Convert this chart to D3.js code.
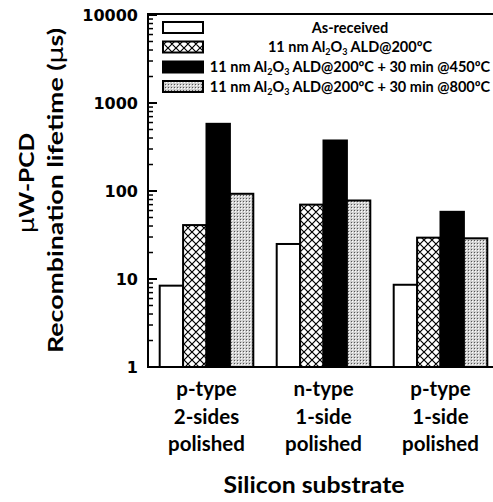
<!DOCTYPE html>
<html><head><meta charset="utf-8">
<script src="https://cdn.jsdelivr.net/npm/d3@7"></script>
<style>body{margin:0;background:#fff}svg{display:block}</style>
</head><body><svg id="c" width="493" height="502"></svg>
<script>
const categories = [["p-type","2-sides","polished"],["n-type","1-side","polished"],["p-type","1-side","polished"]];
const seriesNames = ["As-received","ALD200","ALD200+450","ALD200+800"];
const asReceived = [8.4, 25, 8.6];
const ald200 = [41, 70, 29.5];
const ald450 = [580, 375, 58];
const ald800 = [93, 78, 29];
const yTicks = [1, 10, 100, 1000, 10000];

const svg = d3.select("#c");
const L = 148, R = 499, T = 15, B = 367;
const defs = svg.append("defs");
const ch = defs.append("pattern").attr("id","cross").attr("patternUnits","userSpaceOnUse").attr("width",8).attr("height",8);
ch.append("rect").attr("width",8).attr("height",8).attr("fill","#fff");
ch.append("path").attr("d","M0,0L8,8M8,0L0,8M-4,4L4,-4M4,12L12,4M-4,4L4,12M4,-4L12,4").attr("stroke","#000").attr("stroke-width",1.2);
const dt = defs.append("pattern").attr("id","dots").attr("patternUnits","userSpaceOnUse").attr("width",3).attr("height",3);
dt.append("rect").attr("width",3).attr("height",3).attr("fill","#d0d0d0");
dt.append("rect").attr("x",1).attr("y",1).attr("width",1).attr("height",1).attr("fill","#fff");
dt.append("rect").attr("x",0).attr("y",0).attr("width",1).attr("height",1).attr("fill","#555");
const fills = ["#fff","url(#cross)","#000","url(#dots)"];
const data = [asReceived, ald200, ald450, ald800];

const y = d3.scaleLog().domain([1,10000]).range([B,T]);
const x0 = d3.scaleBand().domain(d3.range(categories.length)).range([L,R]).paddingInner(0.2).paddingOuter(0.1);
const x1 = d3.scaleBand().domain(d3.range(seriesNames.length)).range([0,x0.bandwidth()]);

const g = svg.append("g");
categories.forEach((c,i)=>{
  data.forEach((s,j)=>{
    g.append("rect").attr("x",x0(i)+x1(j)).attr("width",x1.bandwidth())
     .attr("y",y(s[i])).attr("height",B-y(s[i]))
     .attr("fill",fills[j]).attr("stroke","#000").attr("stroke-width",2);
  });
});

// axes frame
svg.append("line").attr("x1",L).attr("x2",493).attr("y1",T-1).attr("y2",T-1).attr("stroke","#000").attr("stroke-width",2);
svg.append("line").attr("x1",L).attr("x2",493).attr("y1",B).attr("y2",B).attr("stroke","#000").attr("stroke-width",2);
svg.append("line").attr("x1",L).attr("x2",L).attr("y1",T-2).attr("y2",B+1).attr("stroke","#000").attr("stroke-width",2);
// ticks
const minor = [];
for (let d=1; d<10000; d*=10) for (let k=2;k<10;k++) minor.push(d*k);
svg.selectAll(".mn").data(minor).enter().append("line").attr("x1",L).attr("x2",L+5)
  .attr("y1",d=>y(d)).attr("y2",d=>y(d)).attr("stroke","#000").attr("stroke-width",1.5);
svg.selectAll(".mj").data(yTicks).enter().append("line").attr("x1",L).attr("x2",L+9)
  .attr("y1",d=>y(d)).attr("y2",d=>y(d)).attr("stroke","#000").attr("stroke-width",2);
svg.selectAll(".tl").data(yTicks).enter().append("text").attr("x",138).attr("y",d=>y(d)+6)
  .attr("text-anchor","end").attr("font-family","DejaVu Sans").attr("font-weight","bold").attr("font-size",16).text(d=>d);

// category labels
categories.forEach((c,i)=>{
  const t = svg.append("text").attr("text-anchor","middle").attr("font-family","Lato").attr("font-weight","bold").attr("font-size",20.5);
  c.forEach((s,k)=>t.append("tspan").attr("x",x0(i)+x0.bandwidth()/2).attr("y",396+k*27.5).text(s));
});
svg.append("text").attr("x",314).attr("y",493).attr("text-anchor","middle").attr("font-family","Lato").attr("font-weight","bold").attr("font-size",23)
  .attr("textLength",181).attr("lengthAdjust","spacingAndGlyphs").text("Silicon substrate");

// y title
const yt = svg.append("text").attr("transform","translate(63,190.5) rotate(-90)").attr("text-anchor","middle").attr("font-family","Lato").attr("font-weight","bold").attr("font-size",21)
  .attr("textLength",325).attr("lengthAdjust","spacingAndGlyphs");
yt.append("tspan").text("Recombination lifetime  (");
yt.append("tspan").attr("font-weight","normal").attr("font-family","DejaVu Sans").text("µ");
yt.append("tspan").text("s)");
const yt2 = svg.append("text").attr("transform","translate(34,183) rotate(-90)").attr("text-anchor","middle").attr("font-family","Lato").attr("font-weight","bold").attr("font-size",21)
  .attr("textLength",100).attr("lengthAdjust","spacingAndGlyphs");
yt2.append("tspan").attr("font-weight","normal").attr("font-family","DejaVu Sans").text("µ");
yt2.append("tspan").text("W-PCD");

// legend
const legY = [27.5, 47, 67, 86.5];
const legParts = [
  [["As-received",""]],
  [["11 nm Al",""],["2","sub"],["O",""],["3","sub"],[" ALD@200ºC",""]],
  [["11 nm Al",""],["2","sub"],["O",""],["3","sub"],[" ALD@200ºC + 30 min @450ºC",""]],
  [["11 nm Al",""],["2","sub"],["O",""],["3","sub"],[" ALD@200ºC + 30 min @800ºC",""]]
];
legParts.forEach((parts,j)=>{
  svg.append("rect").attr("x",163).attr("y",legY[j]-5.5).attr("width",40).attr("height",11)
    .attr("fill",fills[j]).attr("stroke","#000").attr("stroke-width",2);
  const t = svg.append("text").attr("x",350).attr("y",legY[j]+5).attr("text-anchor","middle")
    .attr("font-family","Lato").attr("font-weight","bold").attr("font-size",14.5);
  parts.forEach(p=>{
    const ts = t.append("tspan").text(p[0]);
    if (p[1]==="sub") ts.attr("font-size",9).attr("dy",3);
    else if (t.selectAll("tspan").size()>1) ts.attr("dy",-3);
  });
});
</script></body></html>
